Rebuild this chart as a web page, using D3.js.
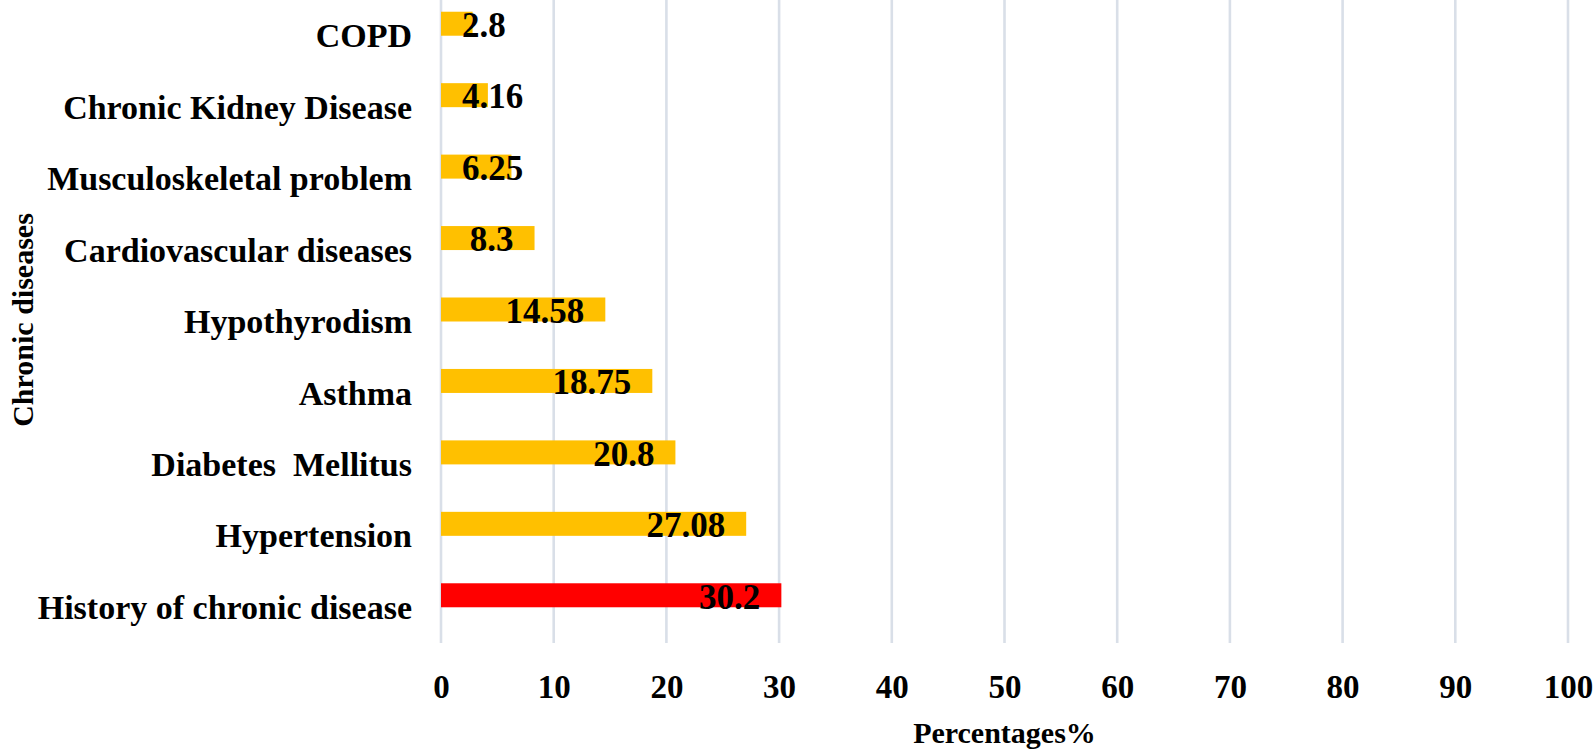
<!DOCTYPE html>
<html>
<head>
<meta charset="utf-8">
<script src="https://cdn.jsdelivr.net/npm/d3@7"></script>
<style>
  body { margin: 0; background: #fff; }
  text { font-family: "Liberation Serif", "Times New Roman", serif; font-weight: bold; }
</style>
</head>
<body>
<div id="main-vis"></div>
<script>
// categories from top to bottom, as in the figure
var categories = ["COPD", "Chronic Kidney Disease", "Musculoskeletal problem",
  "Cardiovascular diseases", "Hypothyrodism", "Asthma", "Diabetes  Mellitus",
  "Hypertension", "History of chronic disease"];
var values = [2.8, 4.16, 6.25, 8.3, 14.58, 18.75, 20.8, 27.08, 30.2];
var labels = ["2.8", "4.16", "6.25", "8.3", "14.58", "18.75", "20.8", "27.08", "30.2"];
var xTicks = [0, 10, 20, 30, 40, 50, 60, 70, 80, 90, 100];

var margin = { top: 0, right: 27, bottom: 111, left: 441 };
var width = 1595 - margin.left - margin.right;
var height = 754 - margin.top - margin.bottom;
var barH = 24;

var svg = d3.select("#main-vis").append("svg")
  .attr("width", 1595)
  .attr("height", 754);
var g = svg.append("g")
  .attr("transform", "translate(" + margin.left + "," + margin.top + ")");

var x = d3.scaleLinear().domain([0, 100]).range([0, width]);
var y = d3.scaleBand().domain(categories).range([0, height]);

// vertical gridlines
g.selectAll(".grid")
  .data(xTicks)
  .enter().append("line")
  .attr("x1", function (d) { return x(d); })
  .attr("x2", function (d) { return x(d); })
  .attr("y1", 0)
  .attr("y2", height)
  .attr("stroke", "#d9dfe8")
  .attr("stroke-width", 2.6);

// bars sit just above the band centre (as in the original)
function barTop(i) { return y(categories[i]) + y.bandwidth() / 2 - barH; }

g.selectAll(".bar")
  .data(values)
  .enter().append("rect")
  .attr("x", x(0))
  .attr("y", function (d, i) { return barTop(i); })
  .attr("width", function (d) { return x(d) - x(0); })
  .attr("height", barH)
  .attr("fill", function (d, i) { return i === categories.length - 1 ? "#ff0000" : "#ffc000"; });

// value labels, inside end but never past the bar start
g.selectAll(".val")
  .data(values)
  .enter().append("text")
  .attr("y", function (d, i) { return barTop(i) + barH / 2 + 1; })
  .attr("dy", "0.35em")
  .attr("text-anchor", "end")
  .style("font-size", "35px")
  .attr("fill", "#000")
  .text(function (d, i) { return labels[i]; })
  .attr("x", function (d) {
    var w = this.getComputedTextLength();
    return Math.max(x(d) - 21, x(0) + 21 + w);
  });

// x axis
var xAxis = g.append("g")
  .attr("transform", "translate(0," + height + ")")
  .call(d3.axisBottom(x).tickValues(xTicks).tickSize(0).tickPadding(0));
xAxis.select(".domain").remove();
xAxis.selectAll("text").style("font-size", "33px").attr("fill", "#000")
  .attr("y", 55).attr("dy", 0);

// y axis
var yAxis = g.append("g")
  .call(d3.axisLeft(y).tickSize(0).tickPadding(29));
yAxis.select(".domain").remove();
yAxis.selectAll("text").style("font-size", "34px").attr("fill", "#000")
  .attr("dy", "0.34em")
  .style("white-space", "pre").attr("xml:space", "preserve");

// axis titles
svg.append("text")
  .attr("x", margin.left + width / 2)
  .attr("y", 743)
  .attr("text-anchor", "middle")
  .style("font-size", "30px")
  .text("Percentages%");

svg.append("text")
  .attr("transform", "translate(33,320) rotate(-90)")
  .attr("text-anchor", "middle")
  .style("font-size", "30px")
  .text("Chronic diseases");
</script>
</body>
</html>
